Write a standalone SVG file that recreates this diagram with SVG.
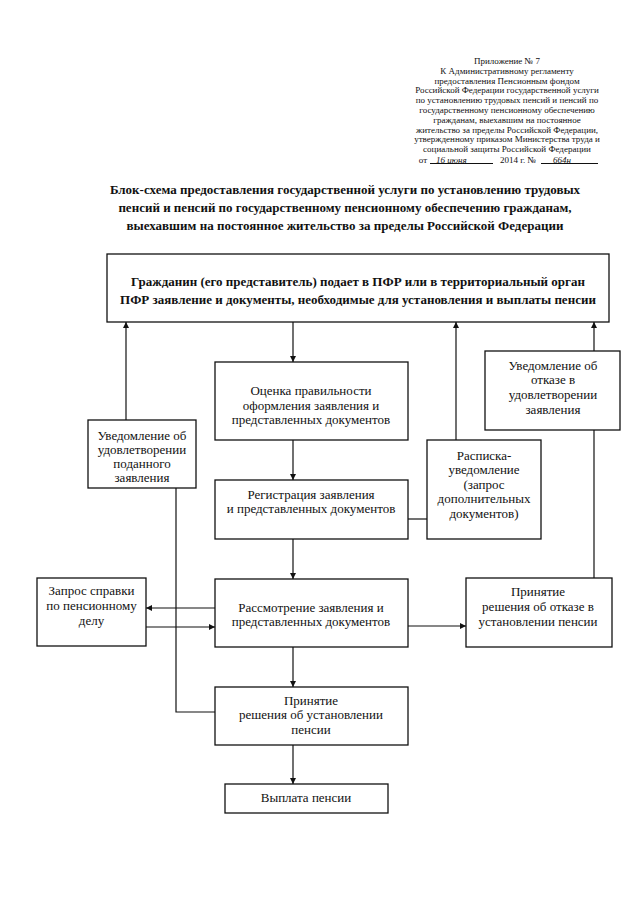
<svg xmlns="http://www.w3.org/2000/svg" width="640" height="905" viewBox="0 0 640 905">
<style>
text{font-family:"Liberation Serif","Times New Roman",serif;fill:#111;}
.hd{font-size:9px;text-anchor:middle;}
.hw{font-size:9px;font-style:italic;}
.tt{font-size:13px;font-weight:bold;text-anchor:middle;}
.bx{fill:#fff;stroke:#111;stroke-width:1.3;}
.t{font-size:13px;text-anchor:middle;}
.c{fill:none;stroke:#111;stroke-width:1.2;}
</style>
<defs>
<marker id="ah" viewBox="0 0 10 10" refX="10" refY="5" markerWidth="6" markerHeight="6" markerUnits="userSpaceOnUse" orient="auto">
<path d="M0,0 L10,5 L0,10 z" fill="#111"/>
</marker>
</defs>
<rect width="640" height="905" fill="#fff"/>
<g id="header">
<text class="hd" x="507" y="64">Приложение № 7</text>
<text class="hd" x="507" y="73.8">К Административному регламенту</text>
<text class="hd" x="507" y="83.6">предоставления Пенсионным фондом</text>
<text class="hd" x="507" y="93.4">Российской Федерации государственной услуги</text>
<text class="hd" x="507" y="103.2">по установлению трудовых пенсий и пенсий по</text>
<text class="hd" x="507" y="113">государственному пенсионному обеспечению</text>
<text class="hd" x="507" y="122.8">гражданам, выехавшим на постоянное</text>
<text class="hd" x="507" y="132.6">жительство за пределы Российской Федерации,</text>
<text class="hd" x="507" y="142.4">утвержденному приказом Министерства труда и</text>
<text class="hd" x="507" y="152.2">социальной защиты Российской Федерации</text>
<text class="hd" x="423" y="162.5">от</text>
<line class="c" x1="430" y1="163.5" x2="493" y2="163.5" stroke-width="0.8"/>
<text class="hw" x="436" y="162.5">16 июня</text>
<text class="hd" x="518" y="162.5">2014 г. №</text>
<line class="c" x1="541" y1="163.5" x2="598" y2="163.5" stroke-width="0.8"/>
<text class="hw" x="553" y="162.5">664н</text>
</g>
<g id="title">
<text class="tt" x="345" y="194">Блок-схема предоставления государственной услуги по установлению трудовых</text>
<text class="tt" x="345" y="212">пенсий и пенсий по государственному пенсионному обеспечению гражданам,</text>
<text class="tt" x="345" y="230">выехавшим на постоянное жительство за пределы Российской Федерации</text>
</g>
<g id="connectors">
<line class="c" x1="126" y1="420" x2="126" y2="322" marker-end="url(#ah)"/>
<line class="c" x1="293" y1="322" x2="293" y2="362" marker-end="url(#ah)"/>
<line class="c" x1="456" y1="440" x2="456" y2="322" marker-end="url(#ah)"/>
<line class="c" x1="594" y1="351" x2="594" y2="322" marker-end="url(#ah)"/>
<line class="c" x1="293" y1="440" x2="293" y2="480" marker-end="url(#ah)"/>
<line class="c" x1="408" y1="519" x2="427" y2="519"/>
<line class="c" x1="293" y1="539" x2="293" y2="579" marker-end="url(#ah)"/>
<line class="c" x1="594" y1="430" x2="594" y2="578"/>
<polyline class="c" points="176,488 176,712 215,712"/>
<line class="c" x1="215" y1="608" x2="146" y2="608" marker-end="url(#ah)"/>
<line class="c" x1="146" y1="627" x2="215" y2="627" marker-end="url(#ah)"/>
<line class="c" x1="408" y1="626" x2="466" y2="626" marker-end="url(#ah)"/>
<line class="c" x1="293" y1="647" x2="293" y2="687" marker-end="url(#ah)"/>
<line class="c" x1="293" y1="745" x2="293" y2="784" marker-end="url(#ah)"/>
</g>
<g id="n-citizen">
<rect class="bx" x="107" y="254" width="502" height="68"/>
<text class="tt" x="358" y="286">Гражданин (его представитель) подает в ПФР или в территориальный орган</text>
<text class="tt" x="358" y="304">ПФР заявление и документы, необходимые для установления и выплаты пенсии</text>
</g>
<g id="n-notice-ok">
<rect class="bx" x="88" y="420" width="108" height="68"/>
<text class="t" x="142" y="439.5">Уведомление об</text>
<text class="t" x="142" y="453.5">удовлетворении</text>
<text class="t" x="142" y="467.5">поданного</text>
<text class="t" x="142" y="481.5">заявления</text>
</g>
<g id="n-check">
<rect class="bx" x="215" y="362" width="193" height="78"/>
<text class="t" x="311" y="395">Оценка правильности</text>
<text class="t" x="311" y="409.5">оформления заявления и</text>
<text class="t" x="311" y="424">представленных документов</text>
</g>
<g id="n-register">
<rect class="bx" x="215" y="480" width="193" height="59"/>
<text class="t" x="311" y="498.5">Регистрация заявления</text>
<text class="t" x="311" y="513">и представленных документов</text>
</g>
<g id="n-receipt">
<rect class="bx" x="427" y="440" width="114" height="99"/>
<text class="t" x="484" y="459.5">Расписка-</text>
<text class="t" x="484" y="474">уведомление</text>
<text class="t" x="484" y="488.5">(запрос</text>
<text class="t" x="484" y="503">дополнительных</text>
<text class="t" x="484" y="517.5">документов)</text>
</g>
<g id="n-notice-refuse">
<rect class="bx" x="485" y="351" width="135" height="79"/>
<text class="t" x="553" y="369.5">Уведомление об</text>
<text class="t" x="553" y="384">отказе в</text>
<text class="t" x="553" y="399">удовлетворении</text>
<text class="t" x="553" y="414">заявления</text>
</g>
<g id="n-request">
<rect class="bx" x="37" y="578" width="109" height="68"/>
<text class="t" x="91.5" y="594.5">Запрос справки</text>
<text class="t" x="91.5" y="609.5">по пенсионному</text>
<text class="t" x="91.5" y="624.5">делу</text>
</g>
<g id="n-review">
<rect class="bx" x="215" y="579" width="193" height="68"/>
<text class="t" x="311" y="611.5">Рассмотрение заявления и</text>
<text class="t" x="311" y="626">представленных документов</text>
</g>
<g id="n-refuse">
<rect class="bx" x="466" y="578" width="146" height="69"/>
<text class="t" x="538" y="596">Принятие</text>
<text class="t" x="538" y="611">решения об отказе в</text>
<text class="t" x="538" y="626">установлении пенсии</text>
</g>
<g id="n-decision">
<rect class="bx" x="215" y="687" width="193" height="58"/>
<text class="t" x="311" y="704.5">Принятие</text>
<text class="t" x="311" y="718.5">решения об установлении</text>
<text class="t" x="311" y="733.5">пенсии</text>
</g>
<g id="n-payment">
<rect class="bx" x="225" y="784" width="163" height="29"/>
<text class="t" x="306" y="801.5">Выплата пенсии</text>
</g>
</svg>
